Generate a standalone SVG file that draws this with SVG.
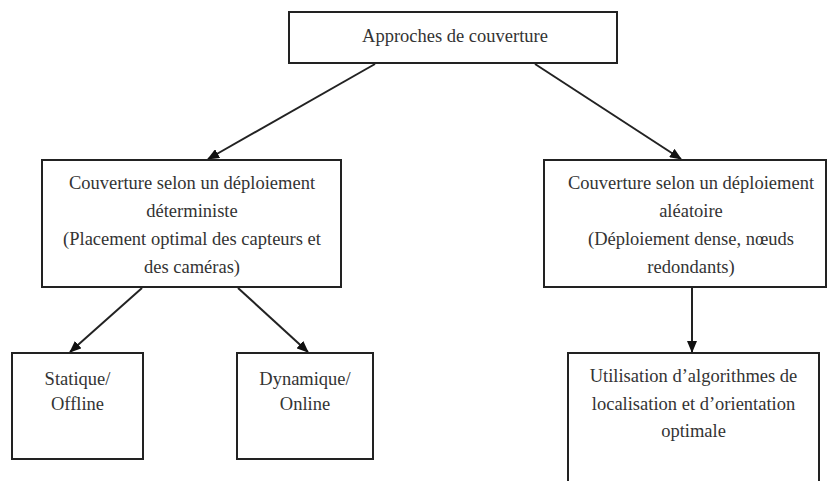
<svg xmlns="http://www.w3.org/2000/svg" width="829" height="481" viewBox="0 0 829 481" font-family="Liberation Serif, DejaVu Serif, serif">
  <style>
    .box { fill: #ffffff; stroke: #222222; stroke-width: 2; }
    .lbl { font-size: 18.5px; fill: #333333; text-anchor: middle; }
    .edge { stroke: #222222; stroke-width: 2; fill: none; marker-end: url(#arrow); }
  </style>
  <defs>
    <marker id="arrow" markerUnits="userSpaceOnUse" markerWidth="12" markerHeight="10" refX="11" refY="5" orient="auto">
      <path d="M0,0 L12,5 L0,10 z" fill="#111111"/>
    </marker>
  </defs>
  <rect width="829" height="481" fill="#ffffff"/>

  <!-- connectors -->
  <g id="connectors">
    <line class="edge" x1="375" y1="64" x2="208" y2="159"/>
    <line class="edge" x1="535" y1="64" x2="681" y2="159"/>
    <line class="edge" x1="142" y1="288" x2="70" y2="352"/>
    <line class="edge" x1="238" y1="288" x2="308" y2="352"/>
    <line class="edge" x1="692" y1="288" x2="692" y2="352"/>
  </g>

  <!-- root -->
  <g id="approches">
    <rect class="box" x="289" y="12" width="328" height="51"/>
    <text class="lbl" x="455" y="42">Approches de couverture</text>
  </g>

  <!-- deterministic deployment -->
  <g id="deterministe">
    <rect class="box" x="42" y="160" width="299" height="127"/>
    <text class="lbl" x="192" y="189">Couverture selon un déploiement</text>
    <text class="lbl" x="192" y="217">déterministe</text>
    <text class="lbl" x="192" y="245">(Placement optimal des capteurs et</text>
    <text class="lbl" x="192" y="273">des caméras)</text>
  </g>

  <!-- random deployment -->
  <g id="aleatoire">
    <rect class="box" x="544" y="160" width="282" height="127"/>
    <text class="lbl" x="691" y="189">Couverture selon un déploiement</text>
    <text class="lbl" x="691" y="217">aléatoire</text>
    <text class="lbl" x="691" y="245">(Déploiement dense, nœuds</text>
    <text class="lbl" x="691" y="273">redondants)</text>
  </g>

  <!-- static -->
  <g id="statique">
    <rect class="box" x="12" y="353" width="131" height="106"/>
    <text class="lbl" x="77.5" y="385">Statique/</text>
    <text class="lbl" x="77.5" y="410">Offline</text>
  </g>

  <!-- dynamic -->
  <g id="dynamique">
    <rect class="box" x="237" y="353" width="136" height="106"/>
    <text class="lbl" x="305" y="385">Dynamique/</text>
    <text class="lbl" x="305" y="410">Online</text>
  </g>

  <!-- algorithms -->
  <g id="algorithmes">
    <rect class="box" x="568" y="353" width="251" height="140"/>
    <text class="lbl" x="693.5" y="382">Utilisation d’algorithmes de</text>
    <text class="lbl" x="693.5" y="410">localisation et d’orientation</text>
    <text class="lbl" x="693.5" y="437">optimale</text>
  </g>
</svg>
